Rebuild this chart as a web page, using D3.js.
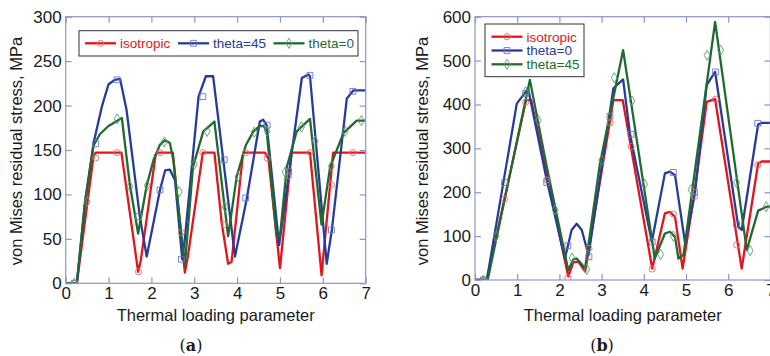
<!DOCTYPE html>
<html>
<head>
  <meta charset="utf-8">
  <title>von Mises residual stress</title>
  <script src="https://cdn.jsdelivr.net/npm/d3@7"></script>
  <style>
    body { margin: 0; background: #fff; }
    text { font-family: "Liberation Sans", Arial, sans-serif; }
  </style>
</head>
<body>
<script>
// ---- data ----
var markX = [0.2, 0.7, 1.2, 1.7, 2.2, 2.7, 3.2, 3.7, 4.2, 4.7, 5.2, 5.7, 6.2, 6.7];
var greenMarkX = [0.2, 0.5, 1.2, 1.5, 1.9, 2.3, 2.65, 3.0, 3.3, 3.72, 4.02, 4.4, 4.7, 5.12, 5.5, 5.82, 6.2, 6.52, 6.9];

// panel (a)
var aIsoX = [0, 0.26, 0.45, 0.65, 0.7, 1.3, 1.69, 1.75, 2.1, 2.14, 2.5, 2.78, 2.85, 3.2, 3.47, 3.64, 3.79, 3.87, 4.14, 4.65, 4.73, 5.0, 5.27, 5.7, 5.97, 6.24, 7];
var aIsoY = [0, 0, 70, 143, 147, 147, 13, 25, 145, 147, 147, 12, 30, 147, 147, 68, 22, 24, 147, 147, 140, 17, 147, 147, 9, 147, 147];
var aT45X = [0, 0.26, 0.45, 0.65, 0.85, 1.0, 1.15, 1.27, 1.42, 1.73, 1.89, 2.2, 2.32, 2.43, 2.55, 2.72, 2.78, 3.1, 3.27, 3.44, 3.95, 4.22, 4.53, 4.61, 4.69, 4.98, 5.23, 5.51, 5.66, 5.7, 6.09, 6.21, 6.56, 6.71, 7];
var aT45Y = [0, 0, 90, 158, 200, 224, 229, 230, 195, 75, 30, 105, 127, 128, 116, 27, 50, 210, 233, 233, 30, 94, 182, 184, 178, 43, 131, 231, 235, 233, 22, 60, 208, 217, 217];
var aT0X = [0, 0.26, 0.45, 0.65, 0.8, 1.0, 1.31, 1.5, 1.69, 1.89, 2.05, 2.2, 2.32, 2.43, 2.51, 2.78, 2.97, 3.21, 3.47, 3.79, 3.99, 4.2, 4.38, 4.53, 4.62, 4.69, 4.92, 5.0, 5.16, 5.39, 5.7, 5.97, 6.17, 6.48, 6.79, 7];
var aT0Y = [0, 0, 92, 155, 168, 177, 186, 110, 56, 110, 139, 156, 161, 158, 139, 20, 131, 171, 182, 53, 120, 155, 171, 177, 177, 171, 53, 53, 131, 171, 185, 66, 131, 169, 183, 183];
var aIsoM = [0, 141, 147, 13, 147, 57, 147, 66, 147, 141, 121, 147, 111, 147];
var aT45M = [0, 157, 229, 75, 105, 27, 210, 139, 96, 178, 126, 234, 60, 216];
var aT0M = [0, 92, 185, 109, 110, 159, 103, 134, 171, 86, 120, 170, 171, 125, 176, 160, 132, 171, 183];

// panel (b)
var bIsoX = [0, 0.28, 1.21, 1.33, 2.21, 2.33, 2.45, 2.61, 3.28, 3.5, 4.2, 4.5, 4.62, 4.74, 4.92, 5.21, 5.49, 5.69, 6.32, 6.71, 6.79, 7];
var bIsoY = [0, 0, 410, 410, 8, 40, 42, 19, 410, 410, 26, 152, 155, 144, 26, 205, 406, 412, 26, 266, 270, 270];
var bT0X = [0, 0.28, 0.99, 1.26, 1.7, 2.13, 2.29, 2.41, 2.53, 2.69, 3.28, 3.51, 3.67, 4.19, 4.5, 4.62, 4.74, 4.98, 5.21, 5.49, 5.69, 6.24, 6.32, 6.71, 6.8, 7];
var bT0Y = [0, 0, 402, 436, 228, 49, 114, 128, 114, 57, 437, 457, 334, 87, 243, 247, 239, 83, 197, 444, 474, 121, 114, 355, 358, 358];
var bT45X = [0, 0.3, 1.3, 1.7, 2.21, 2.33, 2.41, 2.61, 2.96, 3.51, 4.26, 4.5, 4.62, 4.74, 4.82, 4.94, 5.69, 6.44, 6.71, 6.91, 7];
var bT45Y = [0, 0, 456, 258, 22, 47, 49, 27, 265, 524, 49, 106, 110, 98, 49, 57, 588, 68, 158, 167, 167];
var bIsoM = [0, 184, 405, 228, 5, 72, 358, 304, 25, 150, 190, 412, 80, 262];
var bT0M = [0, 222, 425, 222, 78, 53, 373, 332, 87, 245, 200, 474, 127, 357];
var bT45M = [0, 100, 429, 364, 160, 50, 24, 273, 461, 408, 218, 58, 100, 206, 512, 524, 222, 67, 167];

var xTicks = [0, 1, 2, 3, 4, 5, 6, 7];
var aYTicks = [0, 50, 100, 150, 200, 250, 300];
var bYTicks = [0, 100, 200, 300, 400, 500, 600];

var RED = "#e3141c", BLUE = "#263b9b", GREEN = "#1f6a30";
var RED_M = "#ef6a6a", BLUE_M = "#6877c2", GREEN_M = "#5e9c6c";
var AXIS = "#8c95cb";

var svg = d3.select("body").append("svg")
  .attr("width", 770).attr("height", 356);

function zip(xs, ys) { return xs.map(function(x, i) { return [x, ys[i]]; }); }

function panel(opt) {
  var x = d3.scaleLinear().domain([0, 7]).range([opt.left, opt.right]);
  var y = d3.scaleLinear().domain([0, opt.ymax]).range([opt.bottom, opt.top]);
  var g = svg.append("g");

  g.append("clipPath").attr("id", opt.id)
    .append("rect").attr("x", opt.left).attr("y", opt.top - 2)
    .attr("width", opt.right - opt.left).attr("height", opt.bottom - opt.top + 2);

  var line = d3.line().x(function(d) { return x(d[0]); }).y(function(d) { return y(d[1]); });
  var plot = g.append("g").attr("clip-path", "url(#" + opt.id + ")");

  opt.series.forEach(function(s) {
    plot.append("path").datum(zip(s.x, s.y))
      .attr("fill", "none").attr("stroke", s.color)
      .attr("stroke-width", 2.3).attr("stroke-linejoin", "round")
      .attr("d", line);
  });
  opt.series.forEach(function(s) {
    plot.selectAll(null).data(zip(s.mx, s.my)).enter().append("path")
      .attr("transform", function(d) { return "translate(" + x(d[0]) + "," + y(d[1]) + ")"; })
      .attr("d", d3.symbol().type(s.sym).size(s.size))
      .attr("fill", "none").attr("stroke", s.mcolor).attr("stroke-width", 0.9);
  });

  // frame with inward ticks on all sides
  g.append("rect").attr("x", opt.left).attr("y", opt.top)
    .attr("width", opt.right - opt.left).attr("height", opt.bottom - opt.top)
    .attr("fill", "none").attr("stroke", AXIS).attr("stroke-width", 1.2);

  g.append("g").attr("transform", "translate(0," + opt.bottom + ")")
    .call(d3.axisBottom(x).tickValues(xTicks).tickFormat(d3.format("d"))
      .tickSizeInner(-6).tickSizeOuter(0).tickPadding(4));
  g.append("g").attr("transform", "translate(0," + opt.top + ")")
    .call(d3.axisTop(x).tickValues(xTicks).tickSizeInner(-6).tickSizeOuter(0).tickFormat(""));
  g.append("g").attr("transform", "translate(" + opt.left + ",0)")
    .call(d3.axisLeft(y).tickValues(opt.yTicks).tickFormat(d3.format("d"))
      .tickSizeInner(-6).tickSizeOuter(0).tickPadding(4));
  g.append("g").attr("transform", "translate(" + opt.right + ",0)")
    .call(d3.axisRight(y).tickValues(opt.yTicks).tickSizeInner(-6).tickSizeOuter(0).tickFormat(""));
  g.selectAll(".domain").remove();
  g.selectAll(".tick line").attr("stroke", AXIS).attr("stroke-width", 1.2);
  g.selectAll(".tick text").attr("fill", "#1a1a1a")
    .style("font-family", "'Liberation Sans', Arial, sans-serif").style("font-size", "17px");

  g.append("text").attr("x", (opt.left + opt.right) / 2).attr("y", 321)
    .attr("text-anchor", "middle").style("font-size", "16.5px").attr("fill", "#1a1a1a")
    .text("Thermal loading parameter");
  g.append("text")
    .attr("transform", "translate(" + opt.ylabX + "," + 151 + ") rotate(-90)")
    .attr("text-anchor", "middle").style("font-size", "16.5px").attr("fill", "#1a1a1a")
    .text("von Mises residual stress, MPa");
  g.append("text").attr("x", opt.capX).attr("y", 351)
    .attr("text-anchor", "middle")
    .style("font-family", "'DejaVu Serif', 'Liberation Serif', serif")
    .style("font-size", "16px").attr("fill", "#1a1a1a")
    .html("(<tspan font-weight='bold'>" + opt.cap + "</tspan>)");

  return { x: x, y: y, g: g };
}

function legendItem(g, lx, ly, s) {
  g.append("line").attr("x1", lx).attr("x2", lx + 31).attr("y1", ly).attr("y2", ly)
    .attr("stroke", s.color).attr("stroke-width", 2.3);
  g.append("path").attr("transform", "translate(" + (lx + 15.5) + "," + ly + ")")
    .attr("d", d3.symbol().type(s.sym).size(s.size))
    .attr("fill", "none").attr("stroke", s.mcolor).attr("stroke-width", 0.9);
  g.append("text").attr("x", lx + 35).attr("y", ly + 4.8)
    .attr("fill", s.color).style("font-size", "13.5px").text(s.name);
}

var aSeries = [
  { name: "isotropic", x: aIsoX, y: aIsoY, mx: markX, my: aIsoM, color: RED, mcolor: RED_M, sym: d3.symbolCircle, size: 30 },
  { name: "theta=45", x: aT45X, y: aT45Y, mx: markX, my: aT45M, color: BLUE, mcolor: BLUE_M, sym: d3.symbolSquare, size: 34 },
  { name: "theta=0", x: aT0X, y: aT0Y, mx: greenMarkX, my: aT0M, color: GREEN, mcolor: GREEN_M, sym: d3.symbolDiamond, size: 30 }
];
var bSeries = [
  { name: "isotropic", x: bIsoX, y: bIsoY, mx: markX, my: bIsoM, color: RED, mcolor: RED_M, sym: d3.symbolCircle, size: 30 },
  { name: "theta=0", x: bT0X, y: bT0Y, mx: markX, my: bT0M, color: BLUE, mcolor: BLUE_M, sym: d3.symbolSquare, size: 34 },
  { name: "theta=45", x: bT45X, y: bT45Y, mx: greenMarkX, my: bT45M, color: GREEN, mcolor: GREEN_M, sym: d3.symbolDiamond, size: 30 }
];

var pa = panel({ id: "clipA", left: 65.7, right: 365.7, top: 16.7, bottom: 283.3, ymax: 300,
  yTicks: aYTicks, series: aSeries, ylabX: 22, capX: 191, cap: "a" });
var pb = panel({ id: "clipB", left: 475, right: 770.4, top: 16.7, bottom: 280, ymax: 600,
  yTicks: bYTicks, series: bSeries, ylabX: 428, capX: 602, cap: "b" });

// legend (a): one row
pa.g.append("rect").attr("x", 79).attr("y", 30.7).attr("width", 279).attr("height", 25.3)
  .attr("fill", "#fff").attr("stroke", "#333").attr("stroke-width", 1);
[85, 178, 273.5].forEach(function(lx, i) { legendItem(pa.g, lx, 43.3, aSeries[i]); });

// legend (b): three rows
pb.g.append("rect").attr("x", 485).attr("y", 24).attr("width", 99).attr("height", 52.7)
  .attr("fill", "#fff").attr("stroke", "#333").attr("stroke-width", 1);
[36.7, 50.5, 64.3].forEach(function(ly, i) { legendItem(pb.g, 491.5, ly, bSeries[i]); });
</script>
</body>
</html>
